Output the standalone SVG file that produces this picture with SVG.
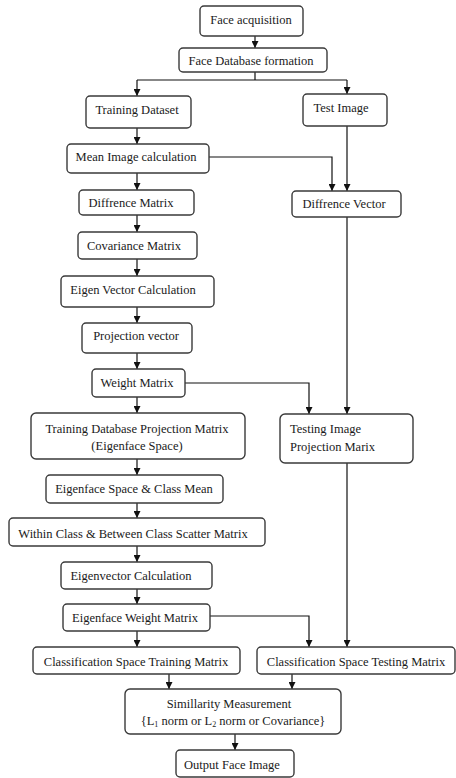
<svg xmlns="http://www.w3.org/2000/svg" width="456" height="778" viewBox="0 0 456 778">
<defs>
<style>
.b{fill:#fff;stroke:#3a3a3a;stroke-width:1.4}
text{font-family:'Liberation Serif','Tinos','DejaVu Serif',serif;font-size:12.5px;fill:#1a1a1a;text-anchor:middle}
.l{text-anchor:start}
.c{fill:none;stroke:#111;stroke-width:1.2}
</style>
<marker id="a" markerUnits="userSpaceOnUse" markerWidth="8" markerHeight="7" refX="7" refY="3.5" orient="auto"><path d="M0,0 L7,3.5 L0,7 z" fill="#111"/></marker>
</defs>
<rect width="456" height="778" fill="#fff"/>
<g id="connectors">
<path class="c" d="M255,36 V48" marker-end="url(#a)"/>
<path class="c" d="M255,72 V80 M137,80 H347"/>
<path class="c" d="M137,80 V96" marker-end="url(#a)"/>
<path class="c" d="M347,80 V94" marker-end="url(#a)"/>
<path class="c" d="M137,128 V144" marker-end="url(#a)"/>
<path class="c" d="M209,157 H332 V191" marker-end="url(#a)"/>
<path class="c" d="M347,126 V191" marker-end="url(#a)"/>
<path class="c" d="M137,173 V190" marker-end="url(#a)"/>
<path class="c" d="M137,215 V232" marker-end="url(#a)"/>
<path class="c" d="M137,259 V276" marker-end="url(#a)"/>
<path class="c" d="M137,307 V323" marker-end="url(#a)"/>
<path class="c" d="M137,353 V369" marker-end="url(#a)"/>
<path class="c" d="M185,383 H309 V414" marker-end="url(#a)"/>
<path class="c" d="M347,217 V414" marker-end="url(#a)"/>
<path class="c" d="M137,397 V413" marker-end="url(#a)"/>
<path class="c" d="M137,459 V475" marker-end="url(#a)"/>
<path class="c" d="M137,503 V518" marker-end="url(#a)"/>
<path class="c" d="M137,546 V562" marker-end="url(#a)"/>
<path class="c" d="M137,589 V604" marker-end="url(#a)"/>
<path class="c" d="M210,616 H309 V647" marker-end="url(#a)"/>
<path class="c" d="M347,463 V647" marker-end="url(#a)"/>
<path class="c" d="M137,631 V647" marker-end="url(#a)"/>
<path class="c" d="M169,674 V689" marker-end="url(#a)"/>
<path class="c" d="M292,674 V689" marker-end="url(#a)"/>
<path class="c" d="M235,734 V750" marker-end="url(#a)"/>
</g>
<g id="face-acquisition"><rect class="b" x="200" y="6" width="103" height="30" rx="4"/><text font-family="Liberation Serif, serif" x="251" y="24">Face acquisition</text></g>
<g id="face-database"><rect class="b" x="179" y="48" width="148" height="24" rx="4"/><text x="251" y="65">Face Database formation</text></g>
<g id="training-dataset"><rect class="b" x="86" y="96" width="105" height="32" rx="4"/><text x="137" y="114">Training Dataset</text></g>
<g id="test-image"><rect class="b" x="303" y="94" width="84" height="32" rx="4"/><text x="341" y="112">Test Image</text></g>
<g id="mean-image"><rect class="b" x="67" y="144" width="142" height="29" rx="4"/><text x="136" y="161">Mean Image calculation</text></g>
<g id="diffrence-vector"><rect class="b" x="292" y="191" width="109" height="26" rx="4"/><text x="344" y="208">Diffrence Vector</text></g>
<g id="diffrence-matrix"><rect class="b" x="79" y="190" width="115" height="25" rx="4"/><text x="131" y="207">Diffrence Matrix</text></g>
<g id="covariance-matrix"><rect class="b" x="78" y="232" width="119" height="27" rx="4"/><text x="134" y="250">Covariance Matrix</text></g>
<g id="eigen-vector-calculation"><rect class="b" x="61" y="276" width="153" height="31" rx="4"/><text x="133" y="294">Eigen Vector Calculation</text></g>
<g id="projection-vector"><rect class="b" x="82" y="323" width="110" height="30" rx="4"/><text x="136" y="340">Projection vector</text></g>
<g id="weight-matrix"><rect class="b" x="92" y="369" width="93" height="28" rx="4"/><text x="137" y="387">Weight Matrix</text></g>
<g id="training-db-projection"><rect class="b" x="31" y="413" width="214" height="46" rx="5"/><text x="137" y="433">Training Database Projection Matrix</text><text x="137" y="450">(Eigenface Space)</text></g>
<g id="testing-image-projection"><rect class="b" x="280" y="414" width="133" height="49" rx="5"/><text class="l" x="290" y="433">Testing Image</text><text class="l" x="290" y="451">Projection Marix</text></g>
<g id="eigenface-space-class-mean"><rect class="b" x="46" y="475" width="177" height="28" rx="4"/><text x="134" y="493">Eigenface Space &amp; Class Mean</text></g>
<g id="scatter-matrix"><rect class="b" x="9" y="518" width="256" height="28" rx="4"/><text x="133" y="538">Within Class &amp; Between Class Scatter Matrix</text></g>
<g id="eigenvector-calculation"><rect class="b" x="61" y="562" width="151" height="27" rx="4"/><text x="131" y="580">Eigenvector Calculation</text></g>
<g id="eigenface-weight-matrix"><rect class="b" x="63" y="604" width="147" height="27" rx="4"/><text x="135" y="622">Eigenface Weight Matrix</text></g>
<g id="class-space-training"><rect class="b" x="33" y="647" width="207" height="27" rx="4"/><text x="136" y="666">Classification Space Training Matrix</text></g>
<g id="class-space-testing"><rect class="b" x="257" y="647" width="198" height="27" rx="4"/><text x="356" y="666">Classification Space Testing Matrix</text></g>
<g id="similarity"><rect class="b" x="125" y="689" width="216" height="45" rx="5"/><text x="229" y="708">Simillarity Measurement</text><text x="233" y="725">{L<tspan dy="2" font-size="8">1</tspan><tspan dy="-2"> norm or L</tspan><tspan dy="2" font-size="8">2</tspan><tspan dy="-2"> norm or Covariance}</tspan></text></g>
<g id="output-face-image"><rect class="b" x="176" y="750" width="118" height="27" rx="4"/><text x="232" y="769">Output Face Image</text></g>
</svg>
